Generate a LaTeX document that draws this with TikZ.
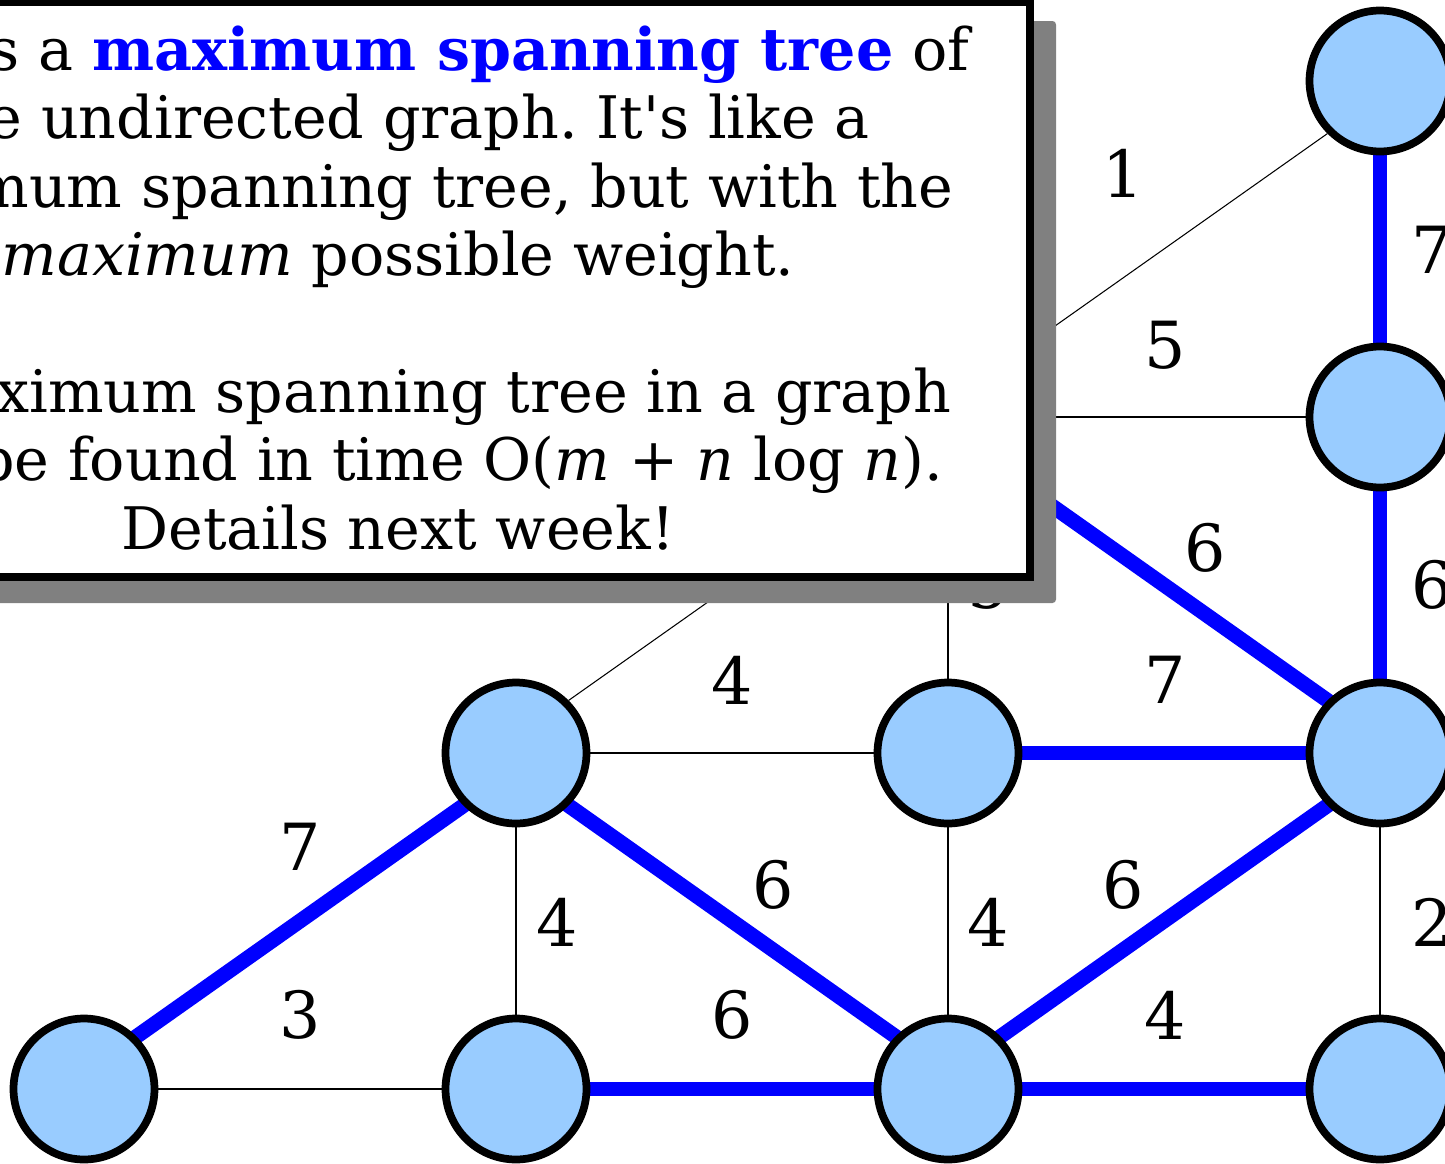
\documentclass[tikz,border=0pt]{standalone}
\usepackage{fontspec}
\setmainfont{DejaVu Serif}[Ligatures=TeXOff]
\usetikzlibrary{backgrounds}
\definecolor{cNode}{HTML}{99CCFF}
\definecolor{cTree}{HTML}{0000FF}
\definecolor{cShade}{HTML}{808080}
\frenchspacing

\begin{document}
\begin{tikzpicture}[x=0.02cm,y=-0.02cm,
      vtx/.style={circle,draw=black,fill=cNode,line width=4.4pt,
                  minimum size=2.82cm,inner sep=0pt},
      plain/.style={black,line width=0.6pt},
      tree/.style={cTree,line width=8.5pt,shorten <=-3pt,shorten >=-3pt},
      wt/.style={font=\fontsize{37pt}{44pt}\selectfont,inner sep=0pt}]
    \useasboundingbox (0,0) rectangle (1445,1164);
    \clip (0,0) rectangle (1445,1164);
    % vertices, rows a-d, columns 0-3
    \node[vtx] (a3) at (1380,81) {};
    \node[vtx] (b2) at (948,417) {};
    \node[vtx] (b3) at (1380,417) {};
    \node[vtx] (c1) at (516,753) {};
    \node[vtx] (c2) at (948,753) {};
    \node[vtx] (c3) at (1380,753) {};
    \node[vtx] (d0) at (84,1089) {};
    \node[vtx] (d1) at (516,1089) {};
    \node[vtx] (d2) at (948,1089) {};
    \node[vtx] (d3) at (1380,1089) {};
    \begin{scope}[on background layer]
      \draw[plain] (a3.south west) -- (b2.north east);
      \draw[plain] (b2.east) -- (b3.west);
      \draw[plain] (b2.south) -- (c2.north);
      \draw[plain] (b2.south west) -- (c1.north east);
      \draw[plain] (c1.east) -- (c2.west);
      \draw[plain] (c1.south) -- (d1.north);
      \draw[plain] (c2.south) -- (d2.north);
      \draw[plain] (c3.south) -- (d3.north);
      \draw[plain] (d0.east) -- (d1.west);
      % tree edges
      \draw[tree] (a3.south) -- (b3.north);
      \draw[tree] (b3.south) -- (c3.north);
      \draw[tree] (b2.south east) -- (c3.north west);
      \draw[tree] (c2.east) -- (c3.west);
      \draw[tree] (d0.north east) -- (c1.south west);
      \draw[tree] (c1.south east) -- (d2.north west);
      \draw[tree] (d2.north east) -- (c3.south west);
      \draw[tree] (d1.east) -- (d2.west);
      \draw[tree] (d2.east) -- (d3.west);
    \end{scope}
    % weights
    \node[wt] (w1) at (1123,173) {1};
    \node[wt] (w2) at (1165,345) {5};
    \node[wt] (w3) at (1432,250) {7};
    \node[wt] (w4) at (1205,548) {6};
    \node[wt] (w5) at (1432,585) {6};
    \node[wt] (w6) at (988,585) {5};
    \node[wt] (w7) at (732,680) {4};
    \node[wt] (w8) at (1165,680) {7};
    \node[wt] (w9) at (300,847) {7};
    \node[wt] (w10) at (557,922) {4};
    \node[wt] (w11) at (773,885) {6};
    \node[wt] (w12) at (988,922) {4};
    \node[wt] (w13) at (1123,885) {6};
    \node[wt] (w14) at (1432,922) {2};
    \node[wt] (w15) at (300,1015) {3};
    \node[wt] (w16) at (732,1015) {6};
    \node[wt] (w17) at (1165,1015) {4};
    % callout box
    \fill[cShade,rounded corners=2pt] (-212,21) rectangle (1056,603);
    \draw[fill=white,line width=4pt] (-234,2) rectangle (1030,577);
    \node[font=\fontsize{33.4pt}{38.9pt}\selectfont,align=center,anchor=base,
          inner sep=0pt] (msg) at (398,549)
      {This is a \textcolor{cTree}{\textbf{maximum spanning tree}} of\\
       the undirected graph. It's like a\\
       minimum spanning tree, but with the\\
       \textit{maximum} possible weight.\\
       ~\\
       A maximum spanning tree in a graph\\
       can be found in time O(\textit{m} + \textit{n} log \textit{n}).\\
       Details next week!};
\end{tikzpicture}
\end{document}
